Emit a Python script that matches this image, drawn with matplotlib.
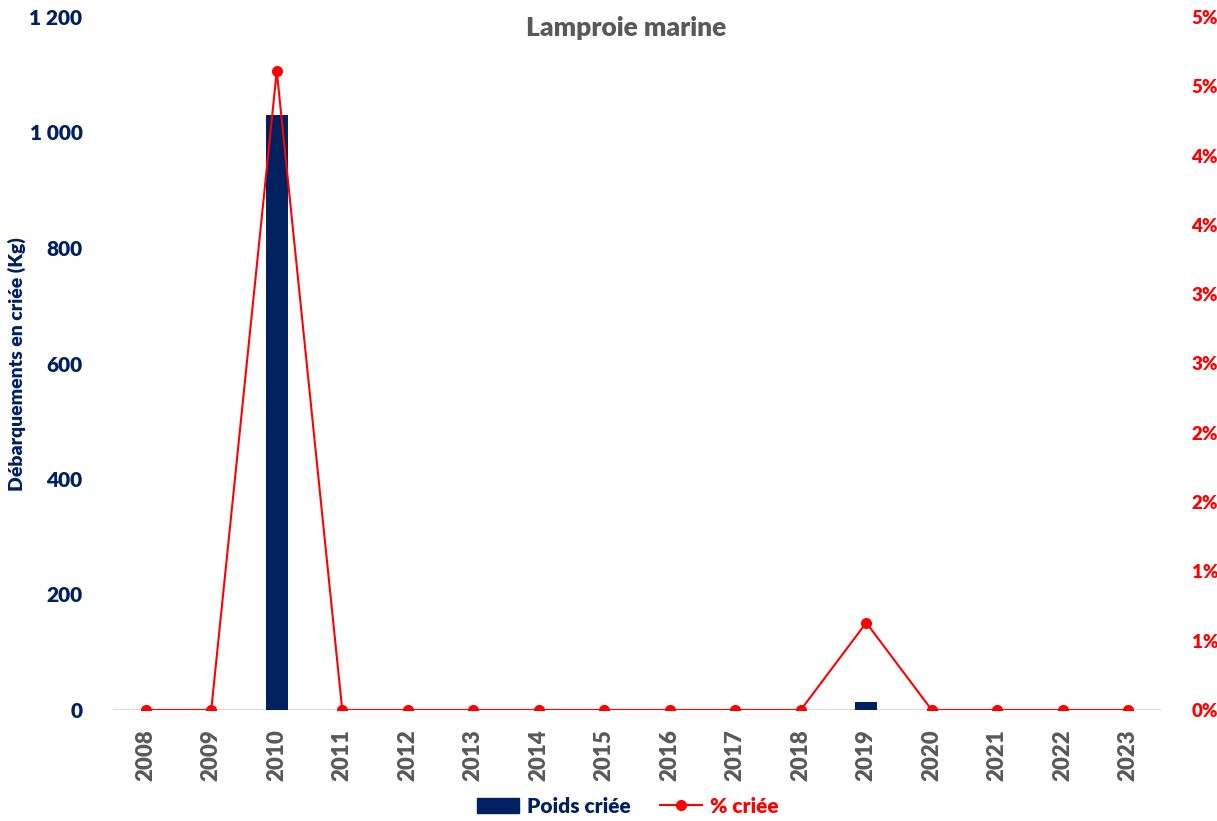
import math
import numpy as np
import matplotlib.pyplot as plt
from matplotlib.lines import Line2D
from matplotlib.patches import Patch
from matplotlib.ticker import FuncFormatter, MultipleLocator

plt.rcParams['font.family'] = ['Lato', 'DejaVu Sans']

years = [str(y) for y in range(2008, 2024)]
poids_criee = [0, 0, 1030, 0, 0, 0, 0, 0, 0, 0, 0, 14, 0, 0, 0, 0]
pct_criee = [0, 0, 4.61, 0, 0, 0, 0, 0, 0, 0, 0, 0.63, 0, 0, 0, 0]

NAVY = '#002060'
RED = '#ff0000'
GREY = '#595959'
W = 'heavy'


def main():
    fig = plt.figure(figsize=(12.17, 8.21), dpi=100)
    ax = fig.add_axes([113 / 1217, 111 / 821, (1161 - 113) / 1217, (710 - 17) / 821])
    ax2 = ax.twinx()

    x = np.arange(len(years))
    ax.bar(x, poids_criee, width=0.34, color=NAVY, zorder=2)
    ax2.plot(x, pct_criee, color=RED, lw=1.5, marker='o', ms=7, zorder=3)

    ax.set_xlim(-0.5, len(years) - 0.5)
    ax.set_ylim(0, 1200)
    ax2.set_ylim(0, 5)
    ax.yaxis.set_major_locator(MultipleLocator(200))
    ax2.yaxis.set_major_locator(MultipleLocator(0.5))

    ax.yaxis.set_major_formatter(FuncFormatter(lambda v, p: f"{int(v):,}".replace(',', ' ')))
    ax2.yaxis.set_major_formatter(FuncFormatter(lambda v, p: f"{math.floor(v + 0.5)}%"))

    ax.set_xticks(x)
    ax.set_xticklabels(years, rotation=90, color=GREY, fontsize=16, fontweight=W)

    for a in (ax, ax2):
        for s in a.spines.values():
            s.set_visible(False)
    ax.axhline(0, color='#d9d9d9', lw=1.5, zorder=1)

    ax.tick_params(axis='x', length=0, pad=14)
    ax.tick_params(axis='y', length=0, labelcolor=NAVY, labelsize=15, pad=22)
    ax2.tick_params(axis='y', length=0, labelcolor=RED, labelsize=13.5, pad=22)
    for lbl in ax.get_yticklabels() + ax2.get_yticklabels():
        lbl.set_fontweight(W)

    fig.text(17 / 1217, 1 - 364 / 821, 'Débarquements en criée (Kg)', rotation=90,
             ha='center', va='center', color=NAVY, fontsize=14, fontweight=W)
    fig.text(626 / 1217, 1 - 28 / 821, 'Lamproie marine', ha='center', va='center',
             color=GREY, fontsize=19, fontweight=W)

    handles = [Patch(color=NAVY), Line2D([0], [0], color=RED, lw=1.5, marker='o', ms=7)]
    leg = fig.legend(handles, ['Poids criée', '% criée'], loc='center',
                     bbox_to_anchor=(628 / 1217, 1 - 806 / 821), ncol=2, frameon=False,
                     prop={'weight': W, 'size': 15}, handlelength=2.0,
                     columnspacing=1.4, handletextpad=0.4)
    for t, c in zip(leg.get_texts(), [NAVY, RED]):
        t.set_color(c)

    fig.savefig('out.png', dpi=100)


if __name__ == '__main__':
    main()
